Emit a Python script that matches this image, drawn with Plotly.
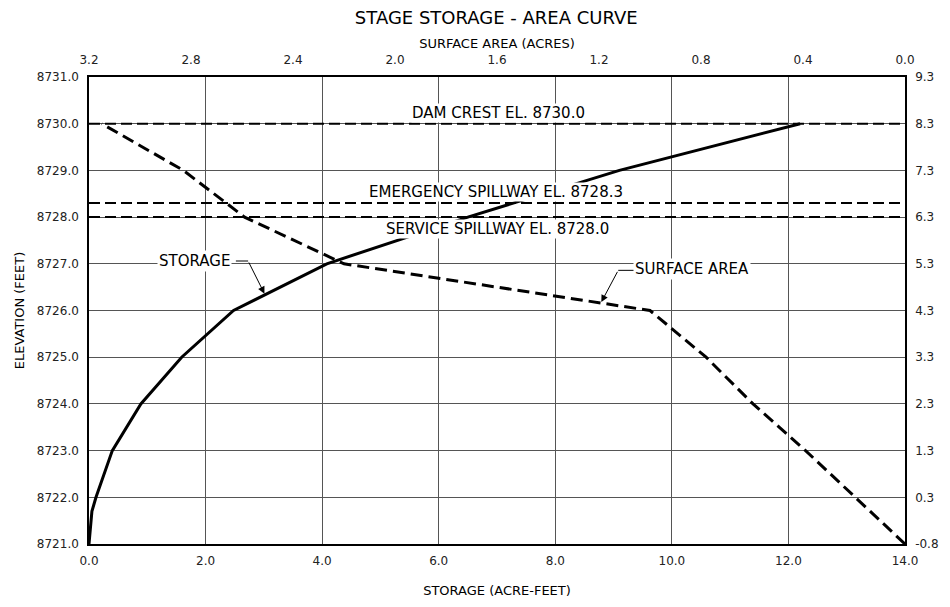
import plotly.graph_objects as go

# storage curve (acre-feet vs elevation)
storage_af = [0.0, 0.05, 0.12, 0.40, 0.89, 1.59, 2.48, 4.08, 6.50, 9.10, 12.20]
storage_el = [8721.0, 8721.7, 8722.0, 8723.0, 8724.0, 8725.0, 8726.0, 8727.0, 8728.0, 8729.0, 8730.0]

# surface area curve (acres vs elevation)
area_ac = [0.0, 0.196, 0.39, 0.596, 0.78, 1.00, 2.20, 2.59, 2.83, 3.15]
area_el = [8721.0, 8722.0, 8723.0, 8724.0, 8725.0, 8726.0, 8727.0, 8728.0, 8729.0, 8730.0]

# reference elevations
ref_names = ['DAM CREST EL. 8730.0', 'EMERGENCY SPILLWAY EL. 8728.3', 'SERVICE SPILLWAY EL. 8728.0']
ref_el = [8730.0, 8728.3, 8728.0]

# axis ticks
elev_ticks = [8721, 8722, 8723, 8724, 8725, 8726, 8727, 8728, 8729, 8730, 8731]
gage_labels = ['-0.8', '0.3', '1.3', '2.3', '3.3', '4.3', '5.3', '6.3', '7.3', '8.3', '9.3']
storage_ticks = [0, 2, 4, 6, 8, 10, 12, 14]
area_ticks = [3.2, 2.8, 2.4, 2.0, 1.6, 1.2, 0.8, 0.4, 0.0]

font = 'DejaVu Sans'
grid = '#555555'

fig = go.Figure()

for el in ref_el:
    fig.add_trace(go.Scatter(x=[0, 14], y=[el, el], mode='lines', yaxis='y2',
                             line=dict(color='black', width=2, dash='11px,5px'),
                             hoverinfo='skip', showlegend=False))

fig.add_trace(go.Scatter(x=area_ac, y=area_el, xaxis='x2', mode='lines', name='SURFACE AREA',
                         line=dict(color='black', width=3, dash='12px,6px'), showlegend=False))

fig.add_trace(go.Scatter(x=storage_af, y=storage_el, mode='lines', name='STORAGE',
                         line=dict(color='black', width=3), showlegend=False))

# labels on the reference lines
label_pos = [(7.02, 8730.22), (6.98, 8728.53), (7.0, 8727.74)]
for name, (lx, ly) in zip(ref_names, label_pos):
    fig.add_annotation(x=lx, y=ly, text=name, showarrow=False, bgcolor='white', borderpad=0,
                       font=dict(family=font, size=15, color='black'))

# curve labels with leaders
fig.add_annotation(x=1.81, y=8727.05, text='STORAGE', showarrow=False, bgcolor='white', borderpad=1,
                   font=dict(family=font, size=15, color='black'))
fig.add_annotation(x=10.34, y=8726.88, text='SURFACE AREA', showarrow=False, bgcolor='white', borderpad=1,
                   font=dict(family=font, size=15, color='black'))

fig.add_shape(type='line', x0=2.52, x1=2.73, y0=8727.06, y1=8727.06, line=dict(color='black', width=1))
fig.add_shape(type='line', x0=9.08, x1=9.36, y0=8726.86, y1=8726.86, line=dict(color='black', width=1))

fig.add_annotation(x=3.01, y=8726.36, ax=2.73, ay=8727.06, axref='x', ayref='y', text='',
                   showarrow=True, arrowhead=2, arrowsize=1.4, arrowwidth=1, arrowcolor='black')
fig.add_annotation(x=8.79, y=8726.18, ax=9.08, ay=8726.86, axref='x', ayref='y', text='',
                   showarrow=True, arrowhead=2, arrowsize=1.4, arrowwidth=1, arrowcolor='black')

tickfont = dict(family=font, size=12, color='#222')
titlefont = dict(family=font, size=13, color='black')

fig.update_layout(
    width=950, height=607,
    margin=dict(l=81, r=53, t=69, b=71),
    paper_bgcolor='white', plot_bgcolor='white',
    title=dict(text='STAGE STORAGE - AREA CURVE', x=0.514, xanchor='center', y=0.9835, yanchor='middle',
               font=dict(family=font, size=18, color='black')),
    xaxis=dict(range=[0, 14], tickvals=storage_ticks, tickformat='.1f', showgrid=True, gridcolor=grid,
               gridwidth=1, zeroline=False, showline=True, linecolor='black', linewidth=1.5,
               ticks='outside', ticklen=5, tickcolor='rgba(0,0,0,0)', tickfont=tickfont,
               title=dict(text='STORAGE (ACRE-FEET)', font=titlefont, standoff=19), automargin=False),
    xaxis2=dict(range=[3.2, 0], overlaying='x', side='top', tickvals=area_ticks, tickformat='.1f',
                showgrid=False, zeroline=False, showline=True, linecolor='black', linewidth=1.5,
                ticks='outside', ticklen=6, tickcolor='rgba(0,0,0,0)', tickfont=tickfont,
                title=dict(text='SURFACE AREA (ACRES)', font=titlefont, standoff=2), automargin=False),
    yaxis=dict(range=[8721, 8731], tickvals=elev_ticks, tickformat='.1f', showgrid=True, gridcolor=grid,
               gridwidth=1, zeroline=False, showline=True, linecolor='black', linewidth=1.5,
               ticks='outside', ticklen=6, tickcolor='rgba(0,0,0,0)', tickfont=tickfont,
               title=dict(text='ELEVATION (FEET)', font=titlefont, standoff=9), automargin=False),
    yaxis2=dict(range=[8721, 8731], overlaying='y', side='right', tickvals=elev_ticks, ticktext=gage_labels,
                showgrid=False, zeroline=False, showline=True, linecolor='black', linewidth=1.5,
                ticks='outside', ticklen=6, tickcolor='rgba(0,0,0,0)', tickfont=tickfont,
                title=dict(text='GAGE HEIGHT (FEET)', font=titlefont, standoff=10), automargin=False),
)

fig.write_html('out.html')
